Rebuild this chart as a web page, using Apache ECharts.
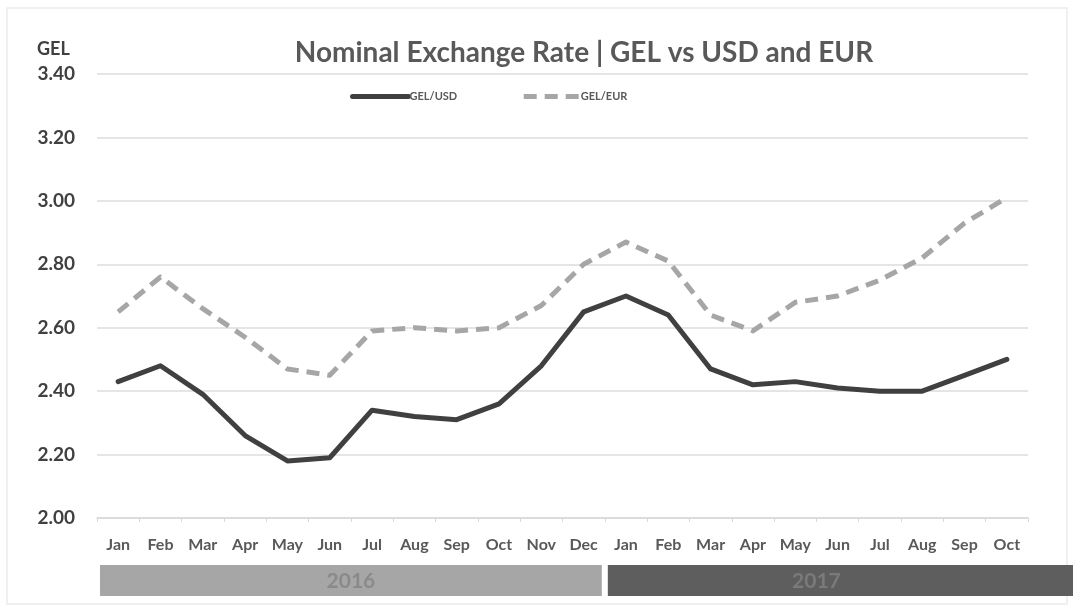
<!DOCTYPE html>
<html>
<head>
<meta charset="utf-8">
<script src="https://cdn.jsdelivr.net/npm/echarts@6/dist/echarts.min.js"></script>
<style>
  html, body { margin: 0; padding: 0; background: #fff; }
  #chart { width: 1073px; height: 609px; }
</style>
</head>
<body>
<div id="chart"></div>
<script>
// Monthly nominal exchange rates of the Georgian lari
const months = ['Jan','Feb','Mar','Apr','May','Jun','Jul','Aug','Sep','Oct','Nov','Dec',
                'Jan','Feb','Mar','Apr','May','Jun','Jul','Aug','Sep','Oct'];
const years = [
  { label: '2016', count: 12 },
  { label: '2017', count: 10 }
];
const gelUsd = [2.43, 2.48, 2.39, 2.26, 2.18, 2.19, 2.34, 2.32, 2.31, 2.36, 2.48, 2.65,
                2.70, 2.64, 2.47, 2.42, 2.43, 2.41, 2.40, 2.40, 2.45, 2.50];
const gelEur = [2.65, 2.76, 2.66, 2.57, 2.47, 2.45, 2.59, 2.60, 2.59, 2.60, 2.67, 2.80,
                2.87, 2.81, 2.64, 2.59, 2.68, 2.70, 2.75, 2.82, 2.93, 3.01];
const yTicks = { min: 2.0, max: 3.4, step: 0.2 };

const FONT = 'Lato, "Open Sans", sans-serif';
const chart = echarts.init(document.getElementById('chart'), null, { renderer: 'canvas' });

const option = {
  backgroundColor: '#ffffff',
  animation: false,
  title: {
    text: 'Nominal Exchange Rate | GEL vs USD and EUR',
    left: 579, top: 34, textAlign: 'center',
    textStyle: { fontFamily: FONT, fontSize: 28, fontWeight: 'bold', color: '#595959' }
  },
  legend: {
    left: 345, top: 86,
    itemWidth: 56, itemHeight: 8, itemGap: 64,
    itemStyle: { opacity: 0 },
    lineStyle: { width: 5 },
    textStyle: { fontFamily: FONT, fontSize: 11, fontWeight: 'bold', color: '#595959', padding: [0, 0, 0, -4] },
    data: ['GEL/USD', 'GEL/EUR']
  },
  grid: { left: 97, right: 45, top: 74, bottom: 91 },
  xAxis: {
    type: 'category',
    data: months,
    boundaryGap: true,
    axisLine: { lineStyle: { color: '#d9d9d9', width: 1.5 } },
    axisTick: { show: true, length: 4, lineStyle: { color: '#d9d9d9' } },
    axisLabel: { fontFamily: FONT, fontSize: 16, fontWeight: 'bold', color: '#595959', margin: 19, interval: 0 }
  },
  yAxis: {
    type: 'value',
    min: yTicks.min, max: yTicks.max, interval: yTicks.step,
    axisLine: { show: false },
    axisTick: { show: false },
    splitLine: { lineStyle: { color: '#dcdcdc', width: 1.5 } },
    axisLabel: {
      fontFamily: FONT, fontSize: 19, fontWeight: 'bold', color: '#404040', margin: 22,
      formatter: v => v.toFixed(2)
    }
  },
  series: [
    {
      name: 'GEL/USD', type: 'line', data: gelUsd,
      symbol: 'none',
      lineStyle: { color: '#404040', width: 5, join: 'round', cap: 'round' },
      itemStyle: { color: '#404040' }
    },
    {
      name: 'GEL/EUR', type: 'line', data: gelEur,
      symbol: 'none',
      lineStyle: { color: '#a6a6a6', width: 5, type: [13, 8], join: 'round' },
      itemStyle: { color: '#a6a6a6' }
    }
  ]
};
chart.setOption(option);

// Year bands under the month labels, spanning each year's categories
const grid = chart.getModel().getComponent('grid').coordinateSystem.getRect();
const half = (chart.convertToPixel({ xAxisIndex: 0 }, 1) - chart.convertToPixel({ xAxisIndex: 0 }, 0)) / 2;
const graphics = [
  {
    type: 'text', left: 37, top: 40,
    style: { text: 'GEL', fontFamily: FONT, fontSize: 18, fontWeight: 'bold', fill: '#404040' }
  },
  {
    type: 'rect', shape: { x: 7, y: 8, width: 1060, height: 596 },
    style: { fill: 'none', stroke: '#ececec', lineWidth: 1.5 }, silent: true
  }
];
const bandStyle = [
  { fill: '#a6a6a6', text: '#8a8a8a' },
  { fill: '#5e5e5e', text: '#7a7a7a' }
];
let startIdx = 0;
years.forEach((y, i) => {
  const endIdx = startIdx + y.count - 1;
  const x0 = i === 0 ? grid.x + 3 : chart.convertToPixel({ xAxisIndex: 0 }, startIdx) - half + 3;
  const x1 = i === years.length - 1 ? 1073 : chart.convertToPixel({ xAxisIndex: 0 }, endIdx) + half - 3;
  graphics.push({
    type: 'rect', shape: { x: x0, y: 565, width: x1 - x0, height: 31 },
    style: { fill: bandStyle[i].fill }, silent: true
  });
  const cx = (chart.convertToPixel({ xAxisIndex: 0 }, startIdx) + chart.convertToPixel({ xAxisIndex: 0 }, endIdx)) / 2;
  graphics.push({
    type: 'text', x: cx, y: 581,
    style: {
      text: y.label, fontFamily: FONT, fontSize: 21, fontWeight: 'bold',
      fill: bandStyle[i].text, align: 'center', verticalAlign: 'middle'
    }, silent: true
  });
  startIdx = endIdx + 1;
});
chart.setOption({ graphic: graphics });
</script>
</body>
</html>
